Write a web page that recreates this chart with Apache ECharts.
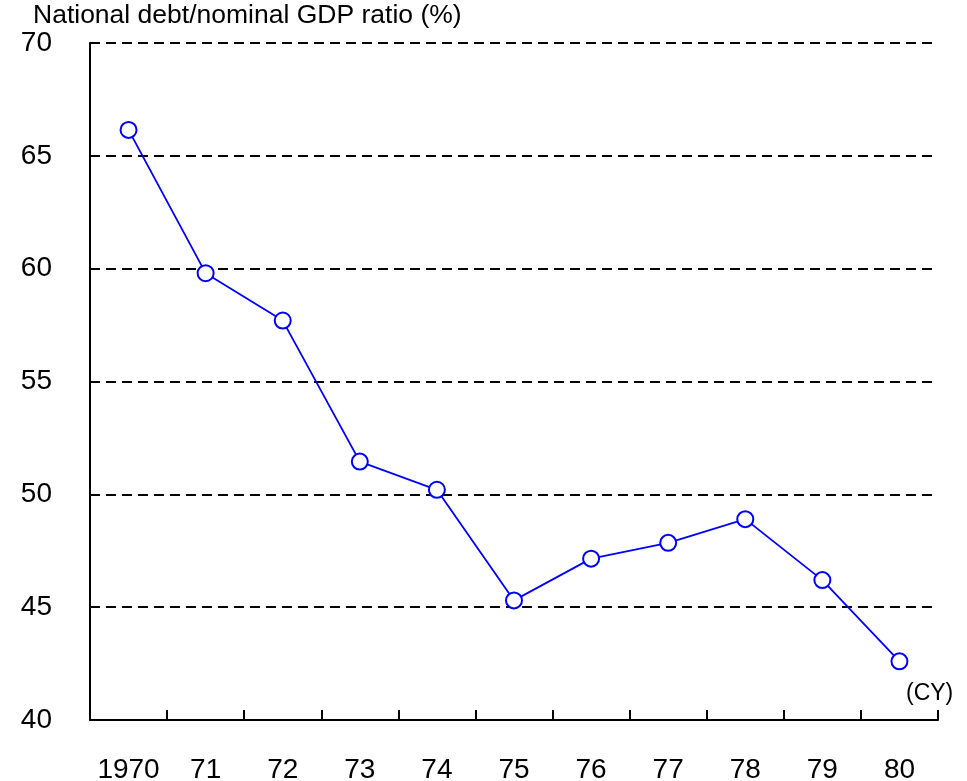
<!DOCTYPE html>
<html>
<head>
<meta charset="utf-8">
<script src="https://cdn.jsdelivr.net/npm/echarts@6/dist/echarts.min.js"></script>
<style>
  html, body { margin: 0; padding: 0; background: #fff; }
  #main { width: 967px; height: 781px; }
</style>
</head>
<body>
<div id="main"></div>
<script>
// calendar years
var years = ['1970', '71', '72', '73', '74', '75', '76', '77', '78', '79', '80'];
// national debt / nominal GDP (%)
var debtRatio = [66.15, 59.8, 57.7, 51.45, 50.2, 45.3, 47.15, 47.85, 48.9, 46.2, 42.6];

var yMin = 40, yMax = 70, yStep = 5;
var font = 'Liberation Sans, Arial, sans-serif';

var chart = echarts.init(document.getElementById('main'));

var option = {
  backgroundColor: '#fff',
  animation: false,
  grid: {
    left: 90,
    right: 29,
    top: 43,
    bottom: 61,
    outerBoundsMode: 'none'
  },
  xAxis: {
    type: 'category',
    data: years,
    boundaryGap: true,
    axisLine: { lineStyle: { color: '#000', width: 2 } },
    axisTick: { show: true, interval: 0, inside: true, length: 10, lineStyle: { color: '#000', width: 2 } },
    axisLabel: { interval: 0, hideOverlap: false, margin: 36, fontSize: 28, color: '#000', fontFamily: font },
    splitLine: { show: false }
  },
  yAxis: {
    type: 'value',
    min: yMin,
    max: yMax,
    interval: yStep,
    axisLine: { show: true, lineStyle: { color: '#000', width: 2 } },
    axisTick: { show: true, inside: true, length: 7, lineStyle: { color: '#000', width: 2 } },
    axisLabel: { margin: 38, fontSize: 28, color: '#000', fontFamily: font },
    splitLine: {
      show: true,
      lineStyle: { color: '#000', width: 2, type: [10, 6] }
    }
  },
  graphic: [
    {
      type: 'text',
      left: 33,
      top: 2,
      style: {
        text: 'National debt/nominal GDP ratio (%)',
        fontSize: 26.5,
        fontFamily: font,
        fill: '#000'
      }
    },
    {
      type: 'text',
      left: 906,
      top: 682,
      style: {
        text: '(CY)',
        fontSize: 23,
        fontFamily: font,
        fill: '#000'
      }
    }
  ],
  series: [
    {
      name: 'debt ratio',
      type: 'line',
      data: debtRatio,
      symbol: 'circle',
      symbolSize: 16,
      showAllSymbol: true,
      lineStyle: { color: '#0000ff', width: 1.8 },
      itemStyle: { color: '#fff', borderColor: '#0000ff', borderWidth: 2 },
      z: 5
    }
  ]
};

chart.setOption(option);
</script>
</body>
</html>
